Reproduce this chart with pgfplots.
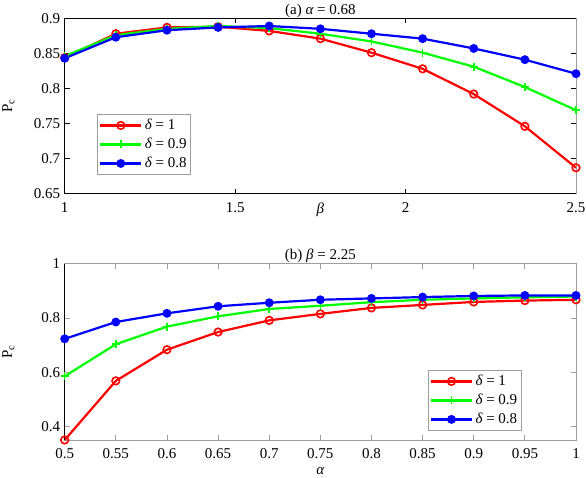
\documentclass[border=0pt]{standalone}
\usepackage{fontspec}
\setmainfont{Liberation Serif}
\usepackage{pgfplots}
\pgfplotsset{compat=1.18}
\definecolor{mgray}{gray}{0.62}
\newcommand{\fs}{\fontsize{15}{18}\selectfont}

\pgfplotstableread{
x     r      g      b
1.00  0.844  0.846  0.843
1.15  0.878  0.876  0.873
1.30  0.887  0.885  0.883
1.45  0.888  0.889  0.887
1.60  0.882  0.886  0.889
1.75  0.871  0.878  0.885
1.90  0.851  0.867  0.878
2.05  0.828  0.851  0.871
2.20  0.792  0.831  0.857
2.35  0.746  0.802  0.841
2.50  0.687  0.769  0.821
}\tableA

\pgfplotstableread{
x     r      g      b
0.50  0.350  0.585  0.723
0.55  0.568  0.703  0.785
0.60  0.683  0.768  0.817
0.65  0.748  0.806  0.843
0.70  0.791  0.833  0.856
0.75  0.815  0.845  0.867
0.80  0.837  0.858  0.872
0.85  0.848  0.867  0.877
0.90  0.859  0.872  0.881
0.95  0.864  0.876  0.883
1.00  0.867  0.879  0.883
}\tableB

\pgfplotsset{
  common/.style={
    scale only axis, width=511.3pt, clip=false,
    font=\fs,
    /pgf/number format/assume math mode=true,
    scaled ticks=false,
    tick align=inside, major tick length=5pt,
    axis line style={draw=mgray, line width=0.8pt},
    every tick/.style={mgray, line width=0.8pt},
    tick label style={font=\fs},
    xticklabel style={yshift=-5pt},
    yticklabel style={xshift=-1pt},
    legend cell align=left,
    legend style={font=\fs, draw=mgray, line width=0.8pt, inner sep=1.5pt, row sep=0pt,
      nodes={inner sep=2.5pt, text height=11pt, text depth=3pt}},
    legend image code/.code={
      \draw[mark repeat=2,mark phase=2] plot coordinates {(0pt,0pt) (20.5pt,0pt) (41pt,0pt)};
    },
    ylabel={P\textsubscript{c}},
    ylabel style={at={(axis description cs:-0.11,0.5)}, anchor=center, font=\fs},
    title style={font=\fs, yshift=-9pt},
  },
  sr/.style={color=red, line width=2.2pt, mark=o, mark size=3.8pt, mark options={line width=1.6pt, fill=white}},
  sg/.style={color=green, line width=2.2pt, mark=+, mark size=4pt, mark options={line width=1.6pt}},
  sb/.style={color=blue, line width=2.2pt, mark=*, mark size=3.3pt, mark options={fill=blue}},
}

\begin{document}
\begin{tikzpicture}
\useasboundingbox (0,0) rectangle (586pt,478pt);

\begin{axis}[common,
  at={(64.7pt,284.3pt)}, anchor=south west, height=175.4pt,
  xmin=1, xmax=2.5, ymin=0.65, ymax=0.9,
  xtick={1,1.5,2,2.5}, ytick={0.65,0.7,0.75,0.8,0.85,0.9},
  every tick/.style={black, line width=0.8pt},
  title={(a) {\itshape α} = 0.68},
  xlabel={\itshape β},
  xlabel style={at={(axis description cs:0.5,0)}, anchor=north, yshift=-6pt, font=\fs},
  legend style={at={(axis description cs:0.0638,0.454)}, anchor=north west},
]
\addplot[sr] table[x=x,y=r] {\tableA};
\addlegendentry{{\itshape δ} = 1}
\addplot[sg] table[x=x,y=g] {\tableA};
\addlegendentry{{\itshape δ} = 0.9}
\addplot[sb] table[x=x,y=b] {\tableA};
\addlegendentry{{\itshape δ} = 0.8}
\draw[black, line width=0.8pt] (axis description cs:1,0) -- (axis description cs:0,0) -- (axis description cs:0,1) -- (axis description cs:1,1);
\end{axis}

\begin{axis}[common,
  at={(64.7pt,38pt)}, anchor=south west, height=176.3pt,
  xmin=0.5, xmax=1, ymin=0.35, ymax=1,
  xtick={0.5,0.55,0.6,0.65,0.7,0.75,0.8,0.85,0.9,0.95,1},
  ytick={0.4,0.6,0.8,1},
  title={(b) {\itshape β} = 2.25},
  xlabel={\itshape α},
  xlabel style={at={(axis description cs:0.5,0)}, anchor=north, yshift=-24pt, font=\fs},
  legend style={at={(axis description cs:0.7105,0.397)}, anchor=north west},
]
\addplot[sr] table[x=x,y=r] {\tableB};
\addlegendentry{{\itshape δ} = 1}
\addplot[sg] table[x=x,y=g] {\tableB};
\addlegendentry{{\itshape δ} = 0.9}
\addplot[sb] table[x=x,y=b] {\tableB};
\addlegendentry{{\itshape δ} = 0.8}
\draw[black, line width=0.8pt] (axis description cs:0,0) -- (axis description cs:0,1);
\end{axis}
\end{tikzpicture}
\end{document}
